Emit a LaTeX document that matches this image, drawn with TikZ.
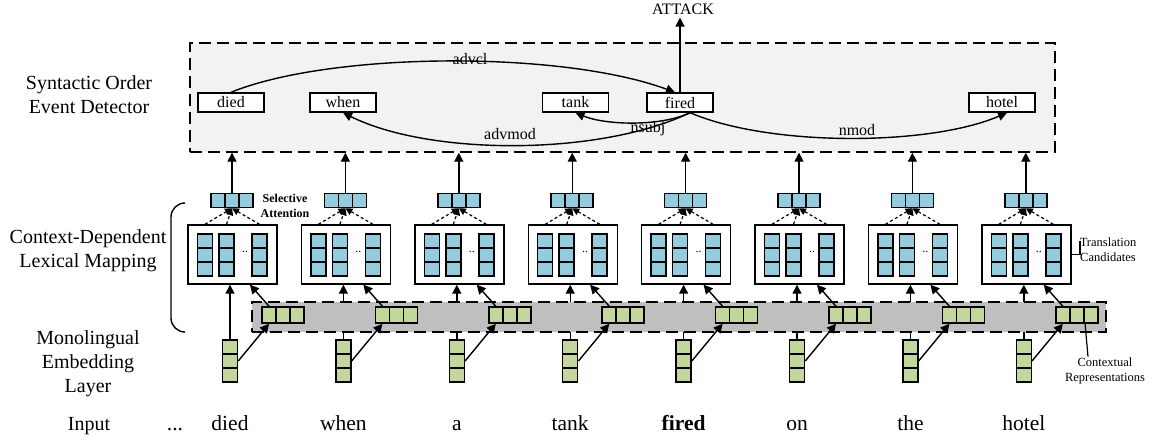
\documentclass[tikz,border=0pt]{standalone}
\usepackage{fontspec}
\setmainfont{Liberation Serif}
\usepackage{xcolor}
\usetikzlibrary{arrows.meta, positioning}
\definecolor{candfill}{HTML}{93CDDD}
\definecolor{embfill}{HTML}{C3D69B}
\definecolor{bandfill}{HTML}{BFBFBF}
\definecolor{detfill}{HTML}{F2F2F2}
\tikzset{
    bluesq/.style={rectangle, draw, fill=candfill, line width=1.5pt,
    minimum width=15pt, minimum height=14pt, inner sep=0pt},
    greensq/.style={rectangle, draw, fill=embfill, line width=1.5pt,
    minimum width=15pt, minimum height=14pt, inner sep=0pt},
    candbox/.style={rectangle, draw, fill=white, line width=1.4pt,
    minimum width=89pt, minimum height=59pt, inner sep=0pt},
    wordbox/.style={rectangle, draw, fill=white, line width=1.4pt,
    minimum width=66pt, minimum height=19pt, inner sep=0pt, font=\fontsize{16}{17}\selectfont},
    dashbox/.style={rectangle, draw, line width=1.4pt, dash pattern=on 12pt off 6pt, inner sep=0pt},
    arrbig/.style={-{Triangle[length=9pt, width=9pt]}, line width=1.4pt},
    attline/.style={-{Triangle[length=7pt, width=7pt]}, line width=1.2pt, dash pattern=on 3pt off 2.5pt},
    deplabel/.style={font=\fontsize{16}{17}\selectfont, inner sep=1pt},
    layerlabel/.style={align=center, font=\fontsize{20}{24}\selectfont},
    wordlabel/.style={anchor=base, font=\fontsize{21.5}{24}\selectfont},
    smalllabel/.style={align=center, font=\fontsize{12.5}{15}\selectfont, inner sep=1pt},
}

\begin{document}
\begin{tikzpicture}[x=1pt, y=-1pt]
    \useasboundingbox (0,0) rectangle (1153,441);

% =========================================================
% TOP — Syntactic Order Event Detector
% =========================================================

        \node[dashbox, fill=detfill, minimum width=865pt, minimum height=109pt] (sod) at (622.5,97.5) {};

        \node[wordbox] (wdied)  at (231,102.5)   {died};
        \node[wordbox] (wwhen)  at (343,102.5)   {when};
        \node[wordbox] (wtank)  at (575.5,102.5) {tank};
        \node[wordbox] (wfired) at (680,102.5)   {fired};
        \node[wordbox] (whotel) at (1002,102.5)  {hotel};

        \node[deplabel, inner sep=3pt] (attack) at (683,9) {ATTACK};
        \draw[arrbig] (wfired.north) -- (wfired.north |- attack.south);

% dependency arcs
        \draw[arrbig] (wdied.north) .. controls (330,52) and (560,50) .. ([xshift=-5pt]wfired.north);
        \node[deplabel] (ladvcl) at (470,59) {advcl};
        \draw[arrbig] ([xshift=10pt]wfired.south) .. controls (600,156) and (430,156) .. (wwhen.south);
        \node[deplabel] (ladvmod) at (510,134) {advmod};
        \draw[arrbig] ([xshift=10pt]wfired.south) .. controls (660,127) and (605,125) .. (wtank.south);
        \node[deplabel] (lnsubj) at (648,129) {nsubj};
        \draw[arrbig] ([xshift=10pt]wfired.south) .. controls (770,147) and (930,146) .. ([xshift=5pt]whotel.south);
        \node[deplabel] (lnmod) at (857,130) {nmod};

% =========================================================
% LEFT — layer names
% =========================================================

        \node[layerlabel] (lsod)   at (89,95)  {Syntactic Order\\Event Detector};
        \node[layerlabel] (lcdl)   at (88,251) {Context-Dependent\\Lexical Mapping};
        \node[layerlabel] (lmel)   at (88,364) {Monolingual\\Embedding\\Layer};
        \node[layerlabel, anchor=base] (linput) at (89,430) {Input};
        \node[wordlabel] (ldots) at (175,430) {...};
        \draw[line width=1.4pt, rounded corners=14pt] (184,203) -- (171,203) -- (171,332) -- (184,332);

% =========================================================
% COLUMNS — embedding, candidates, attention
% =========================================================

        \foreach \i/\w in {0/died, 1/when, 2/a, 3/tank, 4/\textbf{fired}, 5/on, 6/the, 7/hotel} {
            \pgfmathsetmacro{\cx}{230+113.4*\i}
            \foreach \k/\dx in {1/-14, 2/0, 3/14}
                \node[bluesq, minimum width=14pt] (att\i-\k) at (\cx+2+\dx,200.5) {};
            \draw[arrbig] (att\i-2.north) -- (att\i-2.north |- sod.south);

            \node[candbox] (cand\i) at (\cx+2.5,254.5) {};
            \foreach \k/\dx in {1/-27.5, 2/-6, 3/27} {
                \foreach \r/\dy in {1/-14, 2/0, 3/14}
                    \node[bluesq] (cand\i-\k-\r) at (\cx+2.5+\dx,255+\dy) {};
                \draw[attline] (cand\i.north -| cand\i-\k-1) -- (att\i-2.south);
            }
            \node[font=\fontsize{12}{12}\selectfont, inner sep=0pt] (cdots\i) at (\cx+15,252) {..};

            \foreach \r/\dy in {1/347, 2/361, 3/375}
                \node[greensq] (emb\i-\r) at (\cx,\dy) {};
            \draw[arrbig] (emb\i-1.north) -- (emb\i-1.north |- cand\i.south);

            \node[wordlabel] (in\i) at (\cx,430) {\w};
        }

% contextual band on top of the vertical lines
        \node[dashbox, fill=bandfill, minimum width=854pt, minimum height=30pt] (band) at (679,317) {};

        \foreach \i in {0,...,7} {
            \pgfmathsetmacro{\cx}{230+113.4*\i}
            \foreach \k/\dx in {1/39, 2/53, 3/67}
                \node[greensq, minimum width=14pt, minimum height=16pt] (ctx\i-\k) at (\cx+\dx,315) {};
            \draw[arrbig] (emb\i-2.east) -- (ctx\i-1.south);
            \draw[arrbig] (ctx\i-1.north) -- (cand\i.-60);
        }

        \node[font=\bfseries\fontsize{12}{15}\selectfont, align=center, inner sep=0pt] (selatt) at (285,206) {Selective\\Attention};

% right side annotations
        \node[smalllabel] (trans) at (1108,250) {Translation\\Candidates};
        \coordinate (transtick) at (1080,241);
        \draw[line width=1.2pt] (cand7.east) -| (transtick);

        \node[smalllabel] (ctxlbl) at (1105,371) {Contextual\\Representations};
        \draw[line width=1.2pt] ([xshift=2pt]ctx7-3.south west) -- ([xshift=-17pt]ctxlbl.north);

\end{tikzpicture}
\end{document}
